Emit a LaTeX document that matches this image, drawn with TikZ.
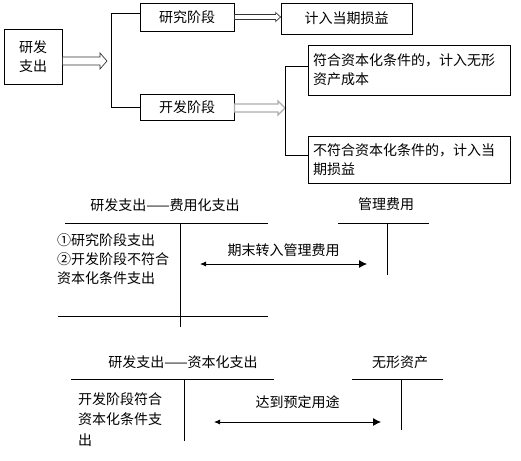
\documentclass[tikz,border=0pt]{standalone}
\usepackage{fontspec}
\setmainfont{Noto Sans CJK SC}
\usetikzlibrary{arrows.meta,positioning,calc}

\begin{document}
\begin{tikzpicture}[x=1pt,y=-1pt,
    font=\fontsize{14}{19}\selectfont,
    box/.style={draw, line width=0.8pt, inner xsep=5pt, inner ysep=3pt},
    harrow/.style n args={3}{to path={let \p1=(\tikztostart), \p2=(\tikztotarget) in
        ({\x1},{\y1+#1}) -- ({\x2-#3},{\y1+#1}) -- ({\x2-#3},{\y1+#2}) -- ({\x2},{\y1})
        -- ({\x2-#3},{\y1-#2}) -- ({\x2-#3},{\y1-#1}) -- ({\x1},{\y1-#1}) -- cycle}},
    tline/.style={line width=0.8pt},
    flow/.style={{Latex[length=6pt,width=5pt]}-{Latex[length=8pt,width=8pt]}, line width=0.8pt}]
    \useasboundingbox (0,0) rectangle (521,460);
    % flow chart
    \node[box, minimum width=58, minimum height=55, align=center] (yfzc) at (33,56.5) {研发\\支出};
    \node[box, minimum width=94, minimum height=28] (yjjd) at (187,17) {研究阶段};
    \node[box, minimum width=94, minimum height=26] (kfjd) at (187,107) {开发阶段};
    \node[box, minimum width=131, minimum height=31] (dqsy) at (346.5,18.5) {计入当期损益};
    \node[box, text width=192pt, minimum height=50, align=left] (fhzb) at (409,70) {符合资本化条件的，计入无形\\资产成本};
    \node[box, text width=192pt, minimum height=47, align=left] (bfzb) at (409,159.5) {不符合资本化条件的，计入当\\期损益};
    \coordinate (a1) at (107,61);
    \coordinate (a2) at (285,108);
    \draw[line width=0.7pt, gray!40!black] (yfzc.east |- a1) to[harrow={4pt}{8pt}{7pt}] (a1);
    \draw[tline] ([yshift=4pt]yjjd.west) -- ++(-28,0) |- (kfjd.west);
    \draw[line width=0.7pt, gray!40!black] (yjjd.east) to[harrow={2.5pt}{4.5pt}{5pt}] (dqsy.west);
    \draw[line width=1.3pt, gray!65] (kfjd.east |- a2) to[harrow={4pt}{7pt}{7pt}] (a2);
    \draw[tline] ([yshift=4pt]fhzb.west) -- ++(-22,0) |- ([yshift=4pt]bfzb.west);
    % T-accounts, expensed
    \node (fyh) at (165,205) {研发支出——费用化支出};
    \node (glfy) at (386,204) {管理费用};
    \draw[tline] (65,223) -- (268,223) (180,223) -- (180,327) (58,316) -- (268,316);
    \draw[tline] (338,223) -- (429,223) (387,223) -- (387,275);
    \node[anchor=north west, align=left, inner sep=0pt] (fyhl) at (57,233) {①研究阶段支出\\②开发阶段不符合\\资本化条件支出};
    \coordinate (m1) at (200,264);
    \coordinate (m2) at (367,264);
    \draw[flow] (m1) -- node[above=4pt] (qmzr) {期末转入管理费用} (m2);
    % T-accounts, capitalised
    \node (zbh) at (183,362) {研发支出——资本化支出};
    \node (wxzc) at (400,362) {无形资产};
    \draw[tline] (71,379) -- (274,379) (184,379) -- (184,441);
    \draw[tline] (352,379) -- (443,379) (401,379) -- (401,430);
    \node[anchor=north west, align=left, inner sep=0pt, font=\fontsize{14}{20.5}\selectfont] (zbhl) at (78,392) {开发阶段符合\\资本化条件支\\出};
    \coordinate (d1) at (214,422);
    \coordinate (d2) at (381,422);
    \draw[flow] (d1) -- node[above=10pt] (ddyt) {达到预定用途} (d2);
\end{tikzpicture}
\end{document}
